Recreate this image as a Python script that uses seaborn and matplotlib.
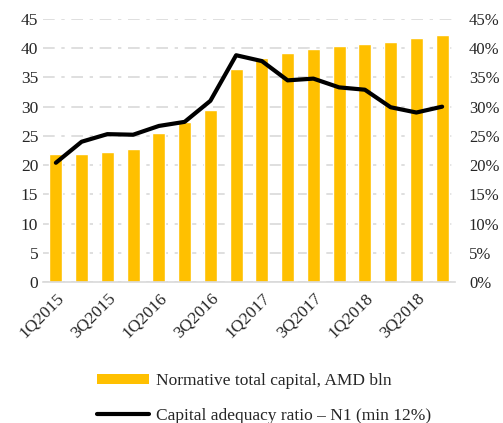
import numpy as np
import pandas as pd
import matplotlib
matplotlib.use("Agg")
import matplotlib.pyplot as plt
import seaborn as sns
from matplotlib.patches import Patch
from matplotlib.lines import Line2D

# Dados
trimestres = ["1Q2015", "2Q2015", "3Q2015", "4Q2015",
              "1Q2016", "2Q2016", "3Q2016", "4Q2016",
              "1Q2017", "2Q2017", "3Q2017", "4Q2017",
              "1Q2018", "2Q2018", "3Q2018", "4Q2018"]
capital = [21.9, 21.9, 22.3, 22.7, 25.5, 27.4, 29.5, 36.4,
           38.4, 39.2, 39.9, 40.3, 40.8, 41.1, 41.7, 42.3]
razao_n1 = [20.4, 24.0, 25.3, 25.2, 26.7, 27.4, 31.0, 38.8,
            37.8, 34.5, 34.8, 33.3, 32.9, 29.9, 29.0, 30.0]

nome_barras = "Normative total capital, AMD bln"
nome_linha = "Capital adequacy ratio \u2013 N1 (min 12%)"

sns.set_style("white")
plt.rcParams["font.family"] = ["Liberation Serif", "DejaVu Serif"]

dados = pd.DataFrame({"trimestre": trimestres, "capital": capital, "n1": razao_n1})

fig, ax = plt.subplots(figsize=(5.03, 4.23), dpi=100)
fig.subplots_adjust(left=43 / 503, right=455 / 503, top=1 - 19 / 423, bottom=1 - 282 / 423)

sns.barplot(data=dados, x="trimestre", y="capital", color="#FFC000",
            saturation=1, width=0.5, ax=ax, zorder=2)
ax.set_ylim(0, 45)
ax.set_yticks(range(0, 46, 5))
ax.set_xlim(-0.5, len(trimestres) - 0.5)
ax.yaxis.grid(True, color="#d9d9d9", linestyle=(0, (7, 4, 2, 4)), linewidth=1.2, zorder=0)
ax.set_axisbelow(True)
for lado in ["top", "right", "left"]:
    ax.spines[lado].set_visible(False)
ax.spines["bottom"].set_color("#d9d9d9")
ax.spines["bottom"].set_linewidth(1.2)
ax.set_xlabel("")
ax.set_ylabel("")
ax.set_xticks(range(0, len(trimestres), 2))
ax.set_xticklabels(trimestres[::2], rotation=45, ha="right", rotation_mode="anchor")
ax.tick_params(axis="both", length=0, labelsize=12.5, colors="#262626")
ax.tick_params(axis="x", pad=6)

ax2 = ax.twinx()
sns.lineplot(x=np.arange(len(trimestres)), y=dados["n1"], color="black",
             linewidth=3, ax=ax2)
ax2.set_ylim(0, 45)
ax2.set_yticks(range(0, 46, 5))
ax2.set_yticklabels([f"{v}%" for v in range(0, 46, 5)])
for lado in ["top", "right", "left", "bottom"]:
    ax2.spines[lado].set_visible(False)
ax2.set_ylabel("")
ax2.tick_params(axis="y", length=0, labelsize=12, colors="#262626", pad=10)

alcas = [Patch(facecolor="#FFC000", edgecolor="none"),
         Line2D([0], [0], color="black", linewidth=3)]
fig.legend(alcas, [nome_barras, nome_linha], loc="upper left",
           bbox_to_anchor=(90 / 503, 1 - 366 / 423), frameon=False,
           fontsize=12.5, handlelength=3.0, handleheight=0.55,
           handletextpad=0.4, labelspacing=1.1, labelcolor="#262626",
           borderaxespad=0)

fig.savefig("out.png", dpi=100)
